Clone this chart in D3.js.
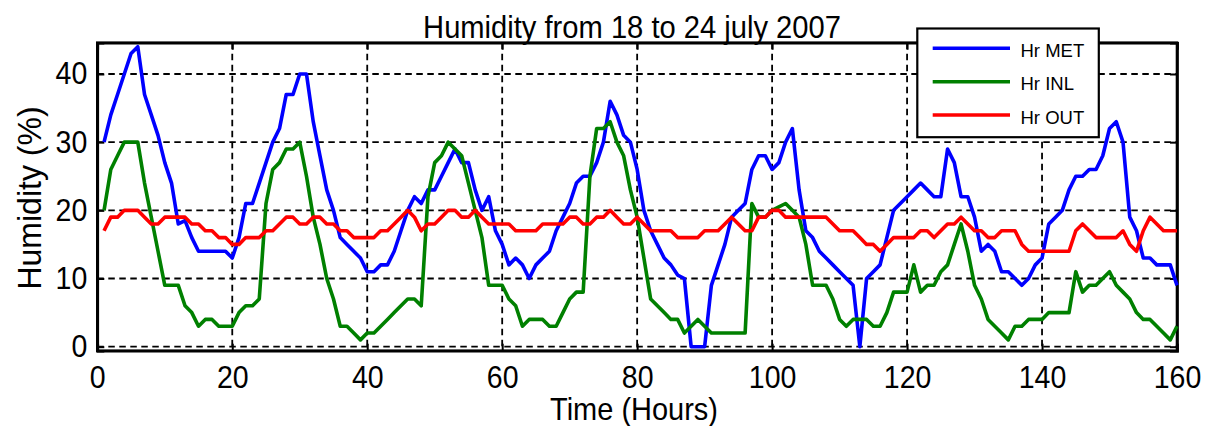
<!DOCTYPE html>
<html><head><meta charset="utf-8">
<script src="https://cdn.jsdelivr.net/npm/d3@7"></script>
<style>
body{margin:0;background:#fff}
svg{display:block}
text{font-family:"Liberation Sans",Arial,Helvetica,sans-serif;fill:#000}
</style>
</head><body>
<svg id="c" width="1213" height="426"></svg>
<script>
// ---- data ----
const title = "Humidity from 18 to 24 july 2007";
const xLabel = "Time (Hours)";
const yLabel = "Humidity (%)";
const xTicks = [0, 20, 40, 60, 80, 100, 120, 140, 160];
const yTicks = [0, 10, 20, 30, 40];
const seriesNames = ["Hr MET", "Hr INL", "Hr OUT"];
const seriesColors = ["#0000ff", "#008000", "#ff0000"];
const hours = d3.range(1, 161);

const hrMET = [30,34,37,40,43,44,37,34,31,27,24,18,18.5,16,14,14,14,14,14,13,
  16,21,21,24,27,30,32,37,37,40,40,33,28,23,20,16,15,14,13,11,
  11,12,12,14,17,20,22,21,23,23,25,27,29,27,27,23,20,22,17,15,
  12,13,12,10,12,13,14,17,19,21,24,25,25,27,30,36,34,31,30,26,
  20,17,15,13,12,10.5,10,0,0,0,9,12,15,19,20,21,26,28,28,26,
  27,30,32,23,17,16,14,13,12,11,10,9,0,10,11,12,16,20,21,22,
  23,24,23,22,22,29,27,22,22,19,14,15,14,11,11,10,9,10,12,13,
  18,19,20,23,25,25,26,26,28,32,33,30,19,17,13,13,12,12,12,9];

const hrINL = [20,26,28,30,30,30,24,19,14,9,9,9,6,5,3,4,4,3,3,3,
  5,6,6,7,21,26,27,29,29,30,25,19,15,10,7,3,3,2,1,2,
  2,3,4,5,6,7,7,6,22,27,28,30,29,28,24,20,16,9,9,9,
  7,6,3,4,4,4,3,3,5,7,8,8,25,32,32,33,30,28,23,19,
  13,7,6,5,4,4,2,3,4,3,2,2,2,2,2,2,21,19,19,20,
  20.5,21,20,19,15,9,9,9,7,4,3,4,4,4,3,3,5,8,8,8,
  12,8,9,9,11,12,15,18,14,9,7,4,3,2,1,3,3,4,4,4,
  5,5,5,5,11,8,9,9,10,11,9,8,7,5,4,4,3,2,1,3];

const hrOUT = [17,19,19,20,20,20,19,18,18,19,19,19,19,18,18,17,17,16,16,15,
  15,16,16,16,17,17,18,19,19,18,18,19,19,18,18,17,17,16,16,16,
  16,17,17,18,19,20,19,17,18,18,19,20,20,19,19,20,19,18,18,18,
  18,17,17,17,17,18,18,18,18,19,19,18,18,19,19,20,19,18,18,19,
  18,17,17,17,17,16,16,16,16,17,17,17,18,19,18,17,17,19,19,20,
  20,19,19,19,19,19,19,19,18,17,17,17,16,15,15,14,15,16,16,16,
  16,17,17,16,17,18,18,19,18,17,17,16,16,17,17,17,15,14,14,14,
  14,14,14,14,17,18,17,16,16,16,16,17,15,14,17,19,18,17,17,17];

const seriesValues = [hrMET, hrINL, hrOUT];

// ---- layout ----
const svg = d3.select("#c");
const L = 97.3, R = 1177, T = 42.7, B = 350.7;
const x = d3.scaleLinear().domain([0, 160]).range([L, R]);
const y = d3.scaleLinear().domain([-0.59, 44.59]).range([B, T]);
const SX = 0.92; // horizontal text compression

// grid
const grid = svg.append("g").attr("stroke", "#000").attr("stroke-width", 1.8)
  .attr("stroke-dasharray", "6.5,4.5").attr("fill", "none");
xTicks.forEach(t => grid.append("line").attr("x1", x(t)).attr("x2", x(t)).attr("y1", T).attr("y2", B));
yTicks.forEach(t => grid.append("line").attr("x1", L).attr("x2", R).attr("y1", y(t)).attr("y2", y(t)));

// axes (ticks inward on all sides)
const tk = 7;
const ax = svg.append("g");
ax.append("g").attr("transform", `translate(0,${B})`)
  .call(d3.axisBottom(x).tickValues(xTicks).tickSize(-tk).tickPadding(15).tickFormat(d3.format("d")));
ax.append("g").attr("transform", `translate(0,${T})`)
  .call(d3.axisTop(x).tickValues(xTicks).tickSize(-tk).tickFormat(""));
ax.append("g").attr("transform", `translate(${L},0)`)
  .call(d3.axisLeft(y).tickValues(yTicks).tickSize(-tk).tickPadding(10).tickFormat(d3.format("d")));
ax.append("g").attr("transform", `translate(${R},0)`)
  .call(d3.axisRight(y).tickValues(yTicks).tickSize(-tk).tickFormat(""));
ax.selectAll(".domain").attr("stroke", "#000").attr("stroke-width", 2.6);
ax.selectAll(".tick line").attr("stroke", "#000").attr("stroke-width", 2);
ax.selectAll(".tick text").attr("font-size", 31).attr("font-family", "Liberation Sans, Arial, sans-serif")
  .attr("fill", "#000");
ax.selectAll(".tick text").each(function(){
  const t = d3.select(this);
  t.attr("transform", `scale(${SX},1)`);
  const xx = +t.attr("x") || 0;
  t.attr("x", xx / SX);
});
// frame (closed box)
svg.append("rect").attr("x", L).attr("y", T).attr("width", R - L).attr("height", B - T)
  .attr("fill", "none").attr("stroke", "#000").attr("stroke-width", 2.6);

// lines
const line = d3.line().x((d, i) => x(hours[i])).y(d => y(d));
seriesValues.forEach((vals, k) => {
  svg.append("path").datum(vals).attr("d", line).attr("fill", "none")
    .attr("stroke", seriesColors[k]).attr("stroke-width", 3.6).attr("stroke-linejoin", "round");
});

// titles
svg.append("text").attr("transform", `translate(632,37.5) scale(0.94,1)`)
  .attr("text-anchor", "middle").attr("font-size", 31).text(title);
svg.append("text").attr("transform", `translate(634,420) scale(${SX},1)`)
  .attr("text-anchor", "middle").attr("font-size", 31.5).text(xLabel);
svg.append("text").attr("transform", `translate(41,198) rotate(-90) scale(0.97,1)`)
  .attr("text-anchor", "middle").attr("font-size", 33).text(yLabel);

// legend
const lg = svg.append("g");
lg.append("rect").attr("x", 917.3).attr("y", 28.5).attr("width", 181.5).attr("height", 108.7)
  .attr("fill", "#fff").attr("stroke", "#000").attr("stroke-width", 2.2);
const legY = [48.3, 81.7, 115];
seriesNames.forEach((n, k) => {
  lg.append("line").attr("x1", 932.7).attr("x2", 1010).attr("y1", legY[k]).attr("y2", legY[k])
    .attr("stroke", seriesColors[k]).attr("stroke-width", 3.6);
  lg.append("text").attr("x", 1020.5).attr("y", legY[k] + 8.5).attr("font-size", 18.5).text(n);
});
</script>
</body></html>
